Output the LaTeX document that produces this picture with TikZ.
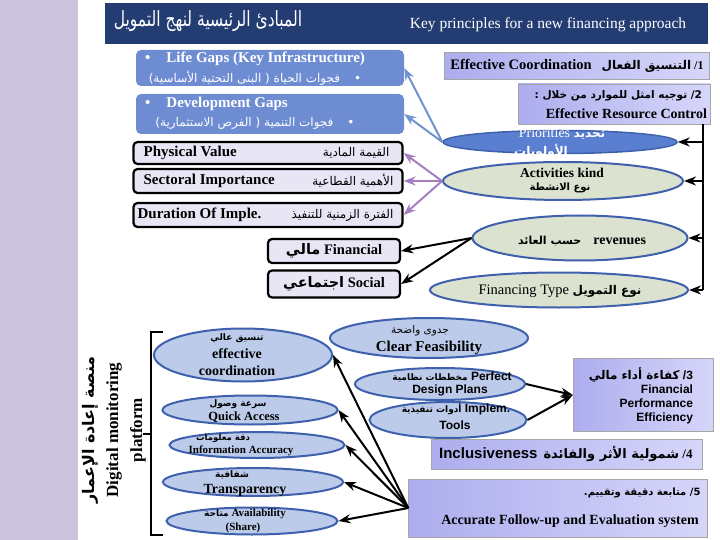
\documentclass[tikz,border=0pt]{standalone}
\usepackage{fontspec}
\setmainfont{Liberation Serif}
\setsansfont{Liberation Sans}
\newfontfamily\arabicfont[Script=Arabic]{DejaVu Sans}
\TeXXeTstate=1
\usetikzlibrary{arrows.meta,shapes.geometric}
\definecolor{stripcol}{HTML}{CBC4DC}
\definecolor{navybar}{HTML}{233C72}
\definecolor{gapblue}{HTML}{6E8CD2}
\definecolor{valfill}{HTML}{E8E6F5}
\definecolor{keyleft}{HTML}{ADADEE}
\definecolor{keyright}{HTML}{D6D6FA}
\definecolor{priofill}{HTML}{5B7FD0}
\definecolor{actfill}{HTML}{DCE2D0}
\definecolor{ovalline}{HTML}{3E60AD}
\definecolor{palefill}{HTML}{BCCBEA}
\definecolor{bluearrow}{HTML}{6F93CC}
\definecolor{purplearrow}{HTML}{A57EC2}
\newcommand{\artxt}[1]{{\arabicfont\beginR #1\endR}}
\newcommand{\fsz}[2]{\fontsize{#1}{#2}\selectfont}

\begin{document}
\begin{tikzpicture}[x=1pt,y=-1pt,>=Stealth,
  gapbox/.style={rectangle,rounded corners=5pt,fill=gapblue,minimum width=268pt,inner sep=0pt},
  valbox/.style={rectangle,rounded corners=4pt,draw=black,line width=2.2pt,fill=valfill,minimum width=269pt,inner sep=0pt},
  smallbox/.style={rectangle,rounded corners=4pt,draw=black,line width=2.2pt,fill=valfill,minimum width=132pt,inner sep=0pt},
  keybox/.style={rectangle,draw=gray!70,left color=keyleft,right color=keyright,inner sep=0pt},
  priooval/.style={ellipse,inner sep=0pt,line width=1.5pt,draw=ovalline,fill=priofill},
  greyoval/.style={ellipse,inner sep=0pt,line width=2pt,draw=ovalline,fill=actfill},
  paleoval/.style={ellipse,inner sep=0pt,line width=2pt,draw=ovalline,fill=palefill},
  txt/.style={inner sep=0pt,text=black},
  whitetxt/.style={inner sep=0pt,text=white},
  serifbf/.style={font=\bfseries\fsz{15}{18}},
  sansbf/.style={font=\sffamily\bfseries\fsz{12}{14}},
  blueline/.style={->,draw=bluearrow,line width=2pt},
  purpleline/.style={->,draw=purplearrow,line width=2pt},
  blackline/.style={->,draw=black,line width=2pt}]
\useasboundingbox (0,0) rectangle (720,540);
\fill[stripcol] (0,0) rectangle (78,540);
\fill[navybar] (105,3) rectangle (708,44);
\node[whitetxt] (titlear) at (208,21) {\scalebox{0.74}[1]{\fsz{21}{24}\artxt{المبادئ الرئيسية لنهج التمويل}}};
\node[whitetxt] (titleen) at (548,25) {\fsz{15.5}{18}Key principles for a new financing approach};

% gaps
\node[gapbox,minimum height=36pt] (lifegaps) at (270,68) {};
\node[whitetxt,serifbf,anchor=west] (lifeen) at (145,59) {•\hspace{16pt}Life Gaps (Key Infrastructure)};
\node[whitetxt] (lifear) at (255,78) {\fsz{12}{14}\artxt{•\hspace{14pt}فجوات الحياة ( البنى التحتية الأساسية)}};
\node[gapbox,minimum height=40pt] (devgaps) at (270,114) {};
\node[whitetxt,serifbf,anchor=west] (deven) at (145,104) {•\hspace{16pt}Development Gaps};
\node[whitetxt] (devar) at (255,123) {\fsz{12}{14}\artxt{•\hspace{14pt}فجوات التنمية ( الفرص الاستثمارية)}};

% value boxes
\node[valbox,minimum height=22pt] (physval) at (268,153) {};
\node[txt,serifbf,anchor=west] (physen) at ([xshift=11pt]physval.west) {Physical Value};
\node[txt,anchor=east] (physar) at ([xshift=-14pt]physval.east) {\fsz{12}{14}\artxt{القيمة المادية}};
\node[valbox,minimum height=24pt] (sectimp) at (268,181) {};
\node[txt,serifbf,anchor=west] (secten) at ([xshift=11pt]sectimp.west) {Sectoral Importance};
\node[txt,anchor=east] (sectar) at ([xshift=-10pt]sectimp.east) {\fsz{12}{14}\artxt{الأهمية القطاعية}};
\node[valbox,minimum height=24pt] (durimp) at (268,215) {};
\node[txt,serifbf,anchor=west] (duren) at ([xshift=5pt]durimp.west) {Duration Of Imple.};
\node[txt,anchor=east] (durar) at ([xshift=-10pt]durimp.east) {\fsz{12}{14}\artxt{الفترة الزمنية للتنفيذ}};
\node[smallbox,minimum height=24pt] (finbox) at (334,251) {};
\node[txt,serifbf] (fintxt) at (finbox.center) {\fsz{14.5}{16}\artxt{مالي} Financial};
\node[smallbox,minimum height=27pt] (socbox) at (334,284) {};
\node[txt,serifbf] (soctxt) at (socbox.center) {\fsz{14.5}{16}\artxt{اجتماعي} Social};

% key principles
\node[keybox,minimum width=265pt,minimum height=27pt] (keyone) at (577,66) {};
\node[txt,anchor=east] (keyonetxt) at ([xshift=-6pt]keyone.east) {{\bfseries\fsz{14.5}{17}Effective Coordination}\hspace{10pt}{\bfseries\fsz{12}{14}\artxt{التنسيق الفعال} /1}};
\node[keybox,minimum width=192pt,minimum height=40pt] (keytwo) at (614,104) {};
\node[txt,anchor=east] (keytwoar) at ([xshift=-8pt,yshift=8pt]keytwo.east) {\bfseries\fsz{10.5}{12}\artxt{2/ توجيه امثل للموارد من خلال :}};
\node[txt,serifbf,anchor=east] (keytwoen) at ([xshift=-3pt,yshift=-10pt]keytwo.east) {\fsz{14}{16}Effective Resource Control};
\node[keybox,minimum width=140pt,minimum height=73pt] (keythree) at (643,395) {};
\node[txt,sansbf,anchor=north east,align=right] (keythreetxt) at ([xshift=-20pt,yshift=-9pt]keythree.north east) {{\arabicfont\fsz{12}{14}\beginR كفاءة أداء مالي\endR} /3\\Financial\\Performance\\Efficiency};
\node[keybox,minimum width=271pt,minimum height=30pt] (keyfour) at (567,454) {};
\node[txt,anchor=east] (keyfourtxt) at ([xshift=-10pt]keyfour.east) {{\sffamily\bfseries\fsz{15}{17}Inclusiveness}\hspace{6pt}{\bfseries\fsz{13}{15}\artxt{شمولية الأثر والفائدة} /4}};
\node[keybox,minimum width=299pt,minimum height=58pt] (keyfive) at (558,508) {};
\node[txt,anchor=east] (keyfivear) at ([xshift=-7pt,yshift=15pt]keyfive.east) {\bfseries\fsz{10}{12}\artxt{5/ متابعة دقيقة وتقييم.}};
\node[txt,serifbf] (keyfiveen) at (570,521) {\fsz{14}{16}Accurate Follow-up and Evaluation system};

% right ellipses
\node[priooval,minimum width=234pt,minimum height=23pt] (prio) at (560,142) {};
\node[whitetxt] (prioen) at (562,134) {\fsz{14}{16}Priorities {\bfseries\fsz{12}{14}\artxt{تحديد}}};
\node[whitetxt] (prioar) at (541,151) {\bfseries\fsz{12}{14}\artxt{الأولويات}};
\node[greyoval,minimum width=240pt,minimum height=38pt] (actk) at (563,181) {};
\node[txt,serifbf] (actken) at (562,173) {\fsz{13.5}{16}Activities kind};
\node[txt] (actkar) at (560,188) {\bfseries\fsz{10}{12}\artxt{نوع الانشطة}};
\node[greyoval,minimum width=215pt,minimum height=45pt] (reven) at (580,238) {};
\node[txt,serifbf] (reventxt) at (582,241) {{\fsz{11}{13}\artxt{حسب العائد}}\hspace{12pt}{\fsz{14}{16}revenues}};
\node[greyoval,minimum width=258pt,minimum height=35pt] (fintype) at (559,290) {};
\node[txt] (fintypetxt) at (560,291) {\fsz{14.5}{16}Financing Type {\fsz{12}{14}\bfseries\artxt{نوع التمويل}}};

% center ellipses
\node[paleoval,minimum width=198pt,minimum height=40pt] (clear) at (429,338) {};
\node[txt] (clearar) at (420,331) {\fsz{10.5}{12}\artxt{جدوى واضحة}};
\node[txt,serifbf] (clearen) at (429,348) {\fsz{15}{17}Clear Feasibility};
\node[paleoval,minimum width=170pt,minimum height=32pt] (design) at (440,384) {};
\node[txt,sansbf] (designone) at (452,377) {{\fsz{9}{11}\artxt{مخططات نظامية}} Perfect};
\node[txt,sansbf] (designtwo) at (450,390) {Design Plans};
\node[paleoval,minimum width=157pt,minimum height=36pt] (tools) at (448,420) {};
\node[txt,sansbf] (toolsone) at (456,409) {{\fsz{9}{11}\artxt{أدوات تنفيذية}} Implem.};
\node[txt,sansbf] (toolstwo) at (455,425) {Tools};

% platform ellipses
\node[paleoval,minimum width=178pt,minimum height=53pt] (effco) at (243,355) {};
\node[txt] (effcoar) at (237,338) {\bfseries\fsz{9}{11}\artxt{تنسيق عالي}};
\node[txt,serifbf] (effcoone) at (237,354) {\fsz{14}{16}effective};
\node[txt,serifbf] (effcotwo) at (237,371) {\fsz{14}{16}coordination};
\node[paleoval,minimum width=175pt,minimum height=29pt] (quick) at (250,410) {};
\node[txt] (quickar) at (238,404) {\bfseries\fsz{9}{11}\artxt{سرعة وصول}};
\node[txt,serifbf] (quicken) at (244,417) {\fsz{12.5}{14}Quick Access};
\node[paleoval,minimum width=175pt,minimum height=26pt] (infoacc) at (257,445) {};
\node[txt] (infoar) at (223,438) {\bfseries\fsz{8.5}{10}\artxt{دقة معلومات}};
\node[txt,serifbf] (infoen) at (241,451) {\fsz{11}{13}Information Accuracy};
\node[paleoval,minimum width=180pt,minimum height=28pt] (transp) at (253,482) {};
\node[txt] (transpar) at (232,475) {\bfseries\fsz{9}{11}\artxt{شفافية}};
\node[txt,serifbf] (transpen) at (245,490) {\fsz{14}{16}Transparency};
\node[paleoval,minimum width=171pt,minimum height=27pt] (avail) at (252,521) {};
\node[txt,serifbf] (availone) at (245,514) {\fsz{11}{13}{\fsz{9}{11}\artxt{متاحة}} Availability};
\node[txt,serifbf] (availtwo) at (243,528) {\fsz{11}{13}(Share)};

% platform label and bracket
\node[txt,rotate=90] (platar) at (90,430) {\bfseries\fsz{16}{18}\artxt{منصة إعادة الإعمار}};
\node[txt,rotate=90,align=center,font=\bfseries\fsz{17}{24}] (platen) at (126,430) {Digital monitoring\\platform};
\coordinate (brtop) at (163,332);
\coordinate (brbot) at (163,535);
\coordinate (brmid) at (143,434);
\draw[line width=2pt] (brtop) -- (151,332) -- (151,535) -- (brbot);
\draw[line width=2pt] (brmid) -- ++(8,0);

% connectors
\draw[blueline] (prio.west) -- (lifegaps.east);
\draw[blueline] (prio.west) -- (devgaps.east);
\draw[purpleline] (actk.west) -- (physval.east);
\draw[purpleline] (actk.west) -- (sectimp.east);
\draw[purpleline] (actk.west) -- (durimp.east);
\draw[blackline] (reven.west) -- (finbox.east);
\draw[blackline] (reven.west) -- (socbox.east);
\coordinate (rtop) at ([xshift=-7pt]keytwo.south east);
\draw[line width=2pt] (rtop) -- (rtop |- fintype.east);
\draw[blackline] (rtop |- prio.east) -- (prio.east);
\draw[blackline] (rtop |- actk.east) -- (actk.east);
\draw[blackline] (rtop |- reven.east) -- (reven.east);
\draw[blackline] (rtop |- fintype.east) -- (fintype.east);
\draw[blackline] (design.east) -- (keythree.west);
\draw[blackline] (tools.east) -- (keythree.west);
\foreach \target in {effco,quick,infoacc,transp,avail}
  \draw[blackline] (keyfive.west) -- (\target.east);
\end{tikzpicture}
\end{document}
